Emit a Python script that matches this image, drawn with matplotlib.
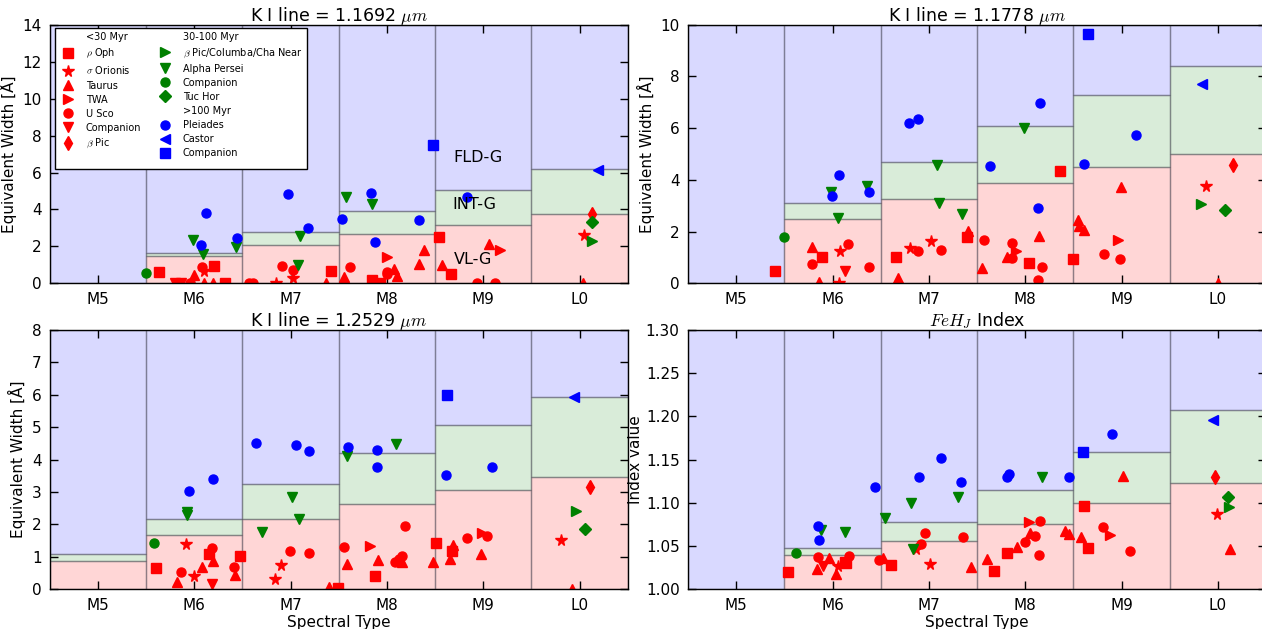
import numpy as np
import matplotlib
matplotlib.use("Agg")
import matplotlib.pyplot as plt
from matplotlib.lines import Line2D

nan = np.nan

# ---------------- data ----------------
SPECTRAL_TYPES = ["M5", "M6", "M7", "M8", "M9", "L0"]

TITLES = [r"K I line = 1.1692 $\mu m$", r"K I line = 1.1778 $\mu m$",
          r"K I line = 1.2529 $\mu m$", r"$FeH_J$ Index"]
YLABELS = [u"Equivalent Width [Å]", u"Equivalent Width [Å]",
           u"Equivalent Width [Å]", "Index value"]

# gravity-class limits per spectral type (VL-G upper limit, INT-G upper limit)
VLG_K1169 = [nan, 1.50, 2.06, 2.66, 3.18, 3.73]
INTG_K1169 = [nan, 1.62, 2.78, 3.92, 5.03, 6.17]
VLG_K1178 = [nan, 2.50, 3.25, 3.89, 4.49, 5.00]
INTG_K1178 = [nan, 3.10, 4.68, 6.07, 7.29, 8.40]
VLG_K1253 = [0.88, 1.68, 2.17, 2.63, 3.05, 3.46]
INTG_K1253 = [1.08, 2.18, 3.26, 4.20, 5.08, 5.93]
VLG_FEH = [nan, 1.0393, 1.0555, 1.0752, 1.0995, 1.1234]
INTG_FEH = [nan, 1.0478, 1.0782, 1.1152, 1.1592, 1.2078]

# measured points: (spectral type index, value)
K1169 = {
    "rhoOph": [(0.63, 0.60), (1.20, 0.94), (1.32, 0.0), (2.42, 0.67), (2.84, 0.16),
               (2.93, 0.0), (3.54, 2.51), (3.66, 0.49)],
    "sigOri": [(1.10, 0.65), (2.02, 0.31), (1.85, 0.0), (5.05, 2.60)],
    "taurus": [(1.00, 0.43), (1.10, 0.0), (1.19, 0.0), (2.37, 0.04), (2.55, 0.34),
               (3.07, 0.80), (3.10, 0.40), (3.33, 1.05), (3.38, 1.83), (3.57, 0.98),
               (4.06, 2.13), (5.04, 0.0)],
    "twa": [(3.00, 1.41), (4.17, 1.83)],
    "usco": [(1.08, 0.88), (0.96, 0.02), (1.57, 0.03), (1.61, 0.03), (1.91, 0.91),
             (2.02, 0.73), (2.62, 0.87), (3.00, 0.61), (3.00, 0.49), (3.93, 0.0),
             (4.12, 0.0)],
    "compY": [(0.80, 0.0), (0.86, 0.0)],
    "bpic": [(5.13, 3.74)],
    "bpmgcol": [(5.13, 2.28)],
    "alphaPer": [(0.99, 2.35), (1.09, 1.59), (1.43, 1.97), (2.10, 2.55), (2.08, 0.98),
                 (2.57, 4.68), (2.84, 4.30)],
    "compM": [(0.50, 0.58)],
    "tuchor": [(5.13, 3.30)],
    "pleiades": [(1.12, 3.80), (1.07, 2.06), (1.44, 2.44), (1.97, 4.85), (2.18, 3.00),
                 (2.53, 3.47), (2.83, 4.90), (2.88, 2.21), (3.33, 3.42), (3.83, 4.67)],
    "castor": [(5.19, 6.15)],
    "compO": [(3.48, 7.47)],
}

K1178 = {
    "rhoOph": [(0.40, 0.48), (0.89, 1.00), (1.66, 1.02), (2.40, 1.78), (3.04, 0.79),
               (3.36, 4.34), (3.50, 0.93)],
    "sigOri": [(1.08, 1.25), (1.07, 0.0), (1.80, 1.35), (2.02, 1.65), (4.88, 3.76)],
    "taurus": [(0.79, 1.40), (0.86, 0.04), (1.68, 0.19), (2.41, 2.02), (2.55, 0.60),
               (2.81, 1.02), (3.14, 1.84), (3.55, 2.45), (3.56, 2.22), (3.61, 2.06),
               (3.99, 3.74), (5.00, 0.0)],
    "twa": [(2.90, 1.25), (3.96, 1.67)],
    "usco": [(0.79, 0.73), (1.16, 1.53), (1.38, 0.64), (1.89, 1.25), (2.13, 1.29),
             (2.57, 1.66), (2.86, 1.56), (2.86, 0.99), (3.17, 0.64), (3.13, 0.14),
             (3.82, 1.12), (3.98, 0.94)],
    "compY": [(1.13, 0.48)],
    "bpic": [(5.16, 4.57)],
    "bpmgcol": [(4.83, 3.05)],
    "alphaPer": [(0.98, 3.52), (1.06, 2.51), (1.36, 3.77), (2.08, 4.59), (2.11, 3.10),
                 (2.34, 2.67), (2.99, 6.00)],
    "compM": [(0.50, 1.79)],
    "tuchor": [(5.07, 2.82)],
    "pleiades": [(1.07, 4.20), (0.99, 3.36), (1.38, 3.52), (1.79, 6.19), (1.89, 6.35),
                 (2.64, 4.55), (3.15, 6.97), (3.13, 2.92), (3.61, 4.61), (4.15, 5.73)],
    "castor": [(4.84, 7.72)],
    "compO": [(3.65, 9.63)],
}

K1253 = {
    "rhoOph": [(0.60, 0.65), (1.15, 1.09), (1.47, 1.02), (2.49, 0.05), (2.88, 0.42),
               (3.51, 1.43), (3.67, 1.17)],
    "sigOri": [(0.91, 1.40), (1.00, 0.41), (1.90, 0.76), (1.84, 0.31), (4.81, 1.53)],
    "taurus": [(0.82, 0.24), (1.08, 0.70), (1.19, 0.88), (1.42, 0.43), (2.40, 0.08),
               (2.59, 0.78), (2.91, 0.90), (3.16, 0.83), (3.48, 0.85), (3.65, 0.93),
               (3.69, 1.36), (3.98, 1.08), (4.92, 0.0)],
    "twa": [(2.82, 1.34), (3.99, 1.75)],
    "usco": [(0.86, 0.52), (1.18, 1.27), (1.41, 0.68), (1.99, 1.19), (2.19, 1.11),
             (2.55, 1.31), (3.08, 0.85), (3.13, 0.93), (3.16, 1.03), (3.19, 1.96),
             (3.83, 1.58), (4.04, 1.64)],
    "compY": [(1.18, 0.17)],
    "bpic": [(5.11, 3.17)],
    "bpmgcol": [(4.96, 2.41)],
    "alphaPer": [(0.92, 2.38), (0.92, 2.29), (1.70, 1.77), (2.01, 2.84), (2.09, 2.16),
                 (2.58, 4.11), (3.09, 4.49)],
    "compM": [(0.58, 1.44)],
    "tuchor": [(5.06, 1.85)],
    "pleiades": [(0.94, 3.04), (1.19, 3.39), (1.64, 4.50), (2.06, 4.44), (2.19, 4.28),
                 (2.60, 4.38), (2.90, 4.30), (2.90, 3.77), (3.61, 3.53), (4.09, 3.76)],
    "castor": [(4.94, 5.92)],
    "compO": [(3.62, 5.99)],
}

FEH = {
    "rhoOph": [(0.54, 1.0204), (1.13, 1.0316), (1.14, 1.0300), (1.61, 1.0285),
               (2.68, 1.0215), (2.81, 1.0424), (3.61, 1.0964), (3.65, 1.0474)],
    "sigOri": [(1.06, 1.0273), (1.87, 1.0470), (2.01, 1.0296), (4.99, 1.0875)],
    "taurus": [(0.84, 1.0238), (0.96, 1.0362), (1.04, 1.0180), (1.52, 1.0359),
               (2.44, 1.0261), (2.60, 1.0354), (2.92, 1.0493), (3.05, 1.0648),
               (3.41, 1.0675), (3.46, 1.0643), (3.58, 1.0609), (4.02, 1.1315),
               (5.13, 1.0470)],
    "twa": [(3.04, 1.0775), (3.88, 1.0628)],
    "usco": [(0.85, 1.0377), (1.17, 1.0389), (1.48, 1.0339), (1.92, 1.0524),
             (1.96, 1.0648), (2.35, 1.0605), (3.00, 1.0544), (3.10, 1.0620),
             (3.15, 1.0787), (3.14, 1.0393), (3.81, 1.0725), (4.09, 1.0443)],
    "compY": [(0.90, 1.0273)],
    "bpic": [(4.97, 1.1296)],
    "bpmgcol": [(5.12, 1.0956)],
    "alphaPer": [(0.88, 1.0686), (1.13, 1.0663), (1.55, 1.0829), (1.82, 1.1000),
                 (1.84, 1.0470), (2.30, 1.1068), (3.17, 1.1296)],
    "compM": [(0.62, 1.0417)],
    "tuchor": [(5.11, 1.1064)],
    "pleiades": [(0.85, 1.0730), (0.86, 1.0570), (1.44, 1.1180), (1.90, 1.1296),
                 (2.13, 1.1520), (2.33, 1.1240), (2.81, 1.1296), (2.83, 1.1334),
                 (3.45, 1.1296), (3.90, 1.1800)],
    "castor": [(4.95, 1.1962)],
    "compO": [(3.60, 1.1590)],
}

YLIMS = [(0, 14), (0, 10), (0, 8), (1.0, 1.3)]
YTICKS = [np.arange(0, 15, 2), np.arange(0, 11, 2), np.arange(0, 9, 1),
          np.arange(1.0, 1.301, 0.05)]

# ---------------- styles ----------------
RED, GREEN, BLUE = "#ff0000", "#008000", "#0000ff"
STYLE = {
    "rhoOph": (RED, "s", 6.5, r"$\rho$ Oph"),
    "sigOri": (RED, "*", 8.5, r"$\sigma$ Orionis"),
    "taurus": (RED, "^", 6.5, "Taurus"),
    "twa": (RED, ">", 6.5, "TWA"),
    "usco": (RED, "o", 6.5, "U Sco"),
    "compY": (RED, "v", 6.5, "Companion"),
    "bpic": (RED, "d", 7.5, r"$\beta$ Pic"),
    "bpmgcol": (GREEN, ">", 6.5, r"$\beta$ Pic/Columba/Cha Near"),
    "alphaPer": (GREEN, "v", 6.5, "Alpha Persei"),
    "compM": (GREEN, "o", 6.5, "Companion"),
    "tuchor": (GREEN, "D", 6.5, "Tuc Hor"),
    "pleiades": (BLUE, "o", 6.5, "Pleiades"),
    "castor": (BLUE, "<", 6.5, "Castor"),
    "compO": (BLUE, "s", 6.5, "Companion"),
}

plt.rcParams["font.family"] = ["DejaVu Sans"]
plt.rcParams["mathtext.fontset"] = "cm"

fig = plt.figure(figsize=(12.62, 6.29), dpi=100)
W, H = 1262.0, 629.0
positions = [
    (49.8 / W, 1 - 283.3 / H, 578 / W, 258.5 / H),
    (688.0 / W, 1 - 283.3 / H, 578 / W, 258.5 / H),
    (49.8 / W, 1 - 589.3 / H, 578 / W, 259.3 / H),
    (688.0 / W, 1 - 589.3 / H, 578 / W, 259.3 / H),
]
panels = [K1169, K1178, K1253, FEH]
vlg = [VLG_K1169, VLG_K1178, VLG_K1253, VLG_FEH]
intg = [INTG_K1169, INTG_K1178, INTG_K1253, INTG_FEH]

edge = (0.3, 0.3, 0.35, 0.4)
for k in range(4):
    ax = fig.add_axes(positions[k])
    y0, y1 = YLIMS[k]
    xs = np.arange(len(SPECTRAL_TYPES))
    for i in xs:
        v, t = vlg[k][i], intg[k][i]
        if np.isnan(v):
            ax.bar(i, y1 - y0, bottom=y0, width=1.0, color=(0, 0, 1, 0.15),
                   edgecolor=edge, linewidth=1.0, zorder=1)
        else:
            ax.bar(i, v - y0, bottom=y0, width=1.0, color=(1, 0, 0, 0.16),
                   edgecolor=edge, linewidth=1.0, zorder=1)
            ax.bar(i, t - v, bottom=v, width=1.0, color=(0, 0.5, 0, 0.15),
                   edgecolor=edge, linewidth=1.0, zorder=1)
            ax.bar(i, y1 - t, bottom=t, width=1.0, color=(0, 0, 1, 0.15),
                   edgecolor=edge, linewidth=1.0, zorder=1)
    for key, pts in panels[k].items():
        c, m, ms, lab = STYLE[key]
        arr = np.array(pts)
        ax.plot(arr[:, 0], arr[:, 1], linestyle="none", marker=m, ms=ms,
                color=c, mec=c, zorder=3, clip_on=True)
    ax.set_xlim(-0.5, 5.5)
    ax.set_ylim(y0, y1)
    ax.set_xticks(xs)
    ax.set_xticklabels(SPECTRAL_TYPES)
    ax.set_yticks(YTICKS[k])
    if k == 3:
        ax.set_yticklabels(["%.2f" % t for t in YTICKS[k]])
    ax.tick_params(direction="in", top=True, right=True, length=6, width=1,
                   labelsize=11, pad=6, color="black")
    ax.set_title(TITLES[k], fontsize=12.5, pad=3)
    ax.set_ylabel(YLABELS[k], fontsize=11, labelpad=4 if k < 3 else 2)
    if k >= 2:
        ax.set_xlabel("Spectral Type", fontsize=11, labelpad=2)
    for s in ax.spines.values():
        s.set_linewidth(1.0)
        s.set_zorder(5)

    if k == 0:
        ax.text(3.95, 6.8, "FLD-G", fontsize=11.5, ha="center", va="center", zorder=4)
        ax.text(3.91, 4.28, "INT-G", fontsize=11.5, ha="center", va="center", zorder=4)
        ax.text(3.89, 1.3, "VL-G", fontsize=11.5, ha="center", va="center", zorder=4)

        def h(key):
            c, m, ms, lab = STYLE[key]
            return Line2D([], [], linestyle="none", marker=m, ms=ms, color=c, mec=c), lab

        blank = Line2D([], [], linestyle="none", marker=None)
        order1 = ["rhoOph", "sigOri", "taurus", "twa", "usco", "compY", "bpic"]
        order2 = ["bpmgcol", "alphaPer", "compM", "tuchor"]
        order3 = ["pleiades", "castor", "compO"]
        handles, labels = [blank], ["<30 Myr"]
        for key in order1:
            hh, ll = h(key); handles.append(hh); labels.append(ll)
        handles.append(blank); labels.append(" ")
        handles.append(blank); labels.append("30-100 Myr")
        for key in order2:
            hh, ll = h(key); handles.append(hh); labels.append(ll)
        handles.append(blank); labels.append(">100 Myr")
        for key in order3:
            hh, ll = h(key); handles.append(hh); labels.append(ll)
        leg = ax.legend(handles, labels, ncol=2, loc="upper left",
                        bbox_to_anchor=(0.009, 0.988), fontsize=7, numpoints=1,
                        fancybox=False, framealpha=1, edgecolor="black",
                        borderpad=0.45, labelspacing=0.42, handletextpad=0.9,
                        columnspacing=1.6, handlelength=1.8, borderaxespad=0)
        leg.get_frame().set_linewidth(1.0)
        leg.set_zorder(10)

fig.savefig("out.png", dpi=100)
